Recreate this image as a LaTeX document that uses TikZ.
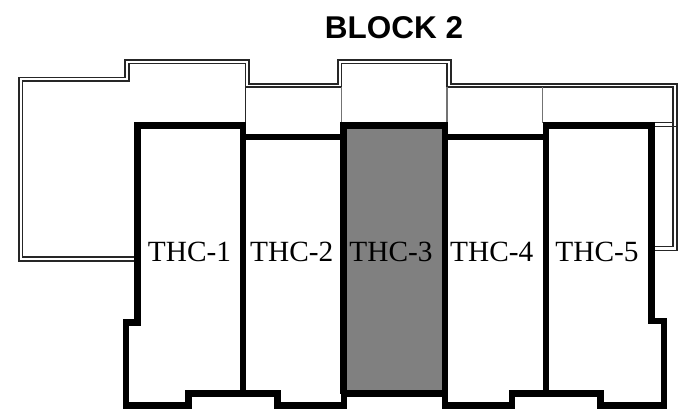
\documentclass[tikz,border=0pt]{standalone}
\usepackage{fontspec}
\setmainfont{Liberation Serif}
\newfontfamily\headfont{Liberation Sans}
\tikzset{
  wall/.style={draw=black,line width=5pt,line join=miter,line cap=butt},
  rail/.style={draw=black!85,line width=0.9pt,line join=miter},
  thin/.style={draw=black!55,line width=0.9pt},
  unit/.style={inner sep=0pt,anchor=base,font=\fontsize{22pt}{24pt}\selectfont,text=black},
  title/.style={inner sep=0pt,anchor=base,font=\headfont\bfseries\fontsize{23.6pt}{26pt}\selectfont}
}
\begin{document}
\begin{tikzpicture}[x=0.75pt,y=-0.75pt]
\useasboundingbox (0,0) rectangle (689,412);
\fill[white] (0,0) rectangle (689,412);
% gray unit
\fill[black!50] (344,126) rectangle (445,394);
% balcony double outline
\draw[rail] (135,261) -- (19,261) -- (19,77.5) -- (125,77.5) -- (125,60) -- (249,60) -- (249,84) -- (338,84) -- (338,60) -- (451,60) -- (451,84) -- (677,84) -- (677,250.7) -- (655,250.7);
\draw[rail] (135,257) -- (22.7,257) -- (22.7,81) -- (129,81) -- (129,63.7) -- (245.7,63.7) -- (245.7,87) -- (341.7,87) -- (341.7,63.7) -- (447,63.7) -- (447,87) -- (673,87) -- (673,246.7) -- (655,246.7);
\draw[rail] (655,122.7) -- (673,122.7);
\draw[rail] (655,126.7) -- (677,126.7);
% partitions
\draw[rail] (245.7,87) -- (245.7,123);
\draw[thin] (341.7,87) -- (341.7,123);
\draw[thin] (447,87) -- (447,123);
\draw[thin] (542.5,87) -- (542.5,123);
% heavy walls
\draw[wall] (243,137) -- (243,125.6) -- (137.5,125.6) -- (137.5,322.7) -- (126,322.7) -- (126,405.3) -- (188.5,405.3) -- (188.5,393.7) -- (277.5,393.7) -- (277.5,405.5) -- (344,405.5) -- (344,393.7) -- (445,393.7) -- (445,405.5) -- (512,405.5) -- (512,393.7) -- (600.7,393.7) -- (600.7,405.5) -- (664,405.5) -- (664,321) -- (651.5,321) -- (651.5,125.6) -- (546,125.6) -- (546,137);
\draw[wall] (243,137) -- (344,137);
\draw[wall] (445,137) -- (546,137);
\draw[wall] (343.5,393.7) -- (343.5,125.6) -- (445,125.6) -- (445,393.7);
\draw[wall] (243,125) -- (243,394);
\draw[wall] (546,125) -- (546,394);
% labels
\node[title] (blocktitle) at (394,38) {BLOCK 2};
\node[unit] (u1) at (189.5,261.5) {THC-1};
\node[unit] (u2) at (291.7,261.5) {THC-2};
\node[unit] (u3) at (391,261.5) {THC-3};
\node[unit] (u4) at (491.7,261.5) {THC-4};
\node[unit] (u5) at (597,261.5) {THC-5};
\end{tikzpicture}
\end{document}
